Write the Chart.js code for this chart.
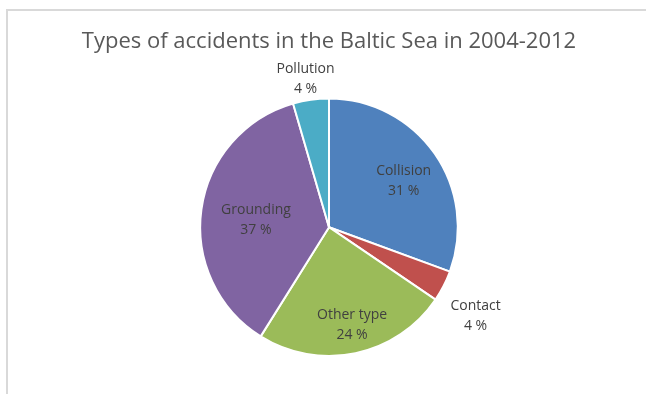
<!DOCTYPE html>
<html>
<head>
<meta charset="utf-8">
<script src="https://cdn.jsdelivr.net/npm/chart.js@4.4.0/dist/chart.umd.min.js"></script>
<style>
    html, body { margin: 0; padding: 0; background: #fff; }
    #wrap { position: relative; width: 646px; height: 394px; }
    #frame {
        position: absolute; left: 6px; top: 9px; right: 0; bottom: 0;
        border-top: 2px solid #d9d9d9; border-left: 2px solid #d9d9d9;
        pointer-events: none;
    }
</style>
</head>
<body>
<div id="wrap">
    <canvas id="chart" width="646" height="394"></canvas>
    <div id="frame"></div>
</div>
<script>
var categories = ["Collision", "Contact", "Other type", "Grounding", "Pollution"];
var shares = [30.6, 3.9, 24.4, 36.6, 4.5];
var percentLabels = ["31 %", "4 %", "24 %", "37 %", "4 %"];
var sliceColors = ["#4F81BD", "#C0504D", "#9BBB59", "#8064A2", "#4BACC6"];

// label placement: fraction of radius, and turn (degrees) off the slice middle
var labelDistance = [0.68, 1.33, 0.78, 0.57, 1.165];
var labelTurn = [3.4, 4, -1.4, -2.1, -0.9];

var sliceLabels = {
    id: 'sliceLabels',
    afterDatasetsDraw: function (chart) {
        var ctx = chart.ctx;
        var meta = chart.getDatasetMeta(0);
        ctx.save();
        ctx.font = '14px "Open Sans", sans-serif';
        ctx.fillStyle = '#404040';
        ctx.textAlign = 'center';
        ctx.textBaseline = 'middle';
        meta.data.forEach(function (arc, i) {
            var p = arc.getProps(['x', 'y', 'startAngle', 'endAngle', 'outerRadius'], true);
            var mid = (p.startAngle + p.endAngle) / 2 + labelTurn[i] * Math.PI / 180;
            var r = p.outerRadius * labelDistance[i];
            var x = p.x + Math.cos(mid) * r;
            var y = p.y + Math.sin(mid) * r;
            ctx.fillText(categories[i], x, y - 10);
            ctx.fillText(percentLabels[i], x, y + 10);
        });
        ctx.restore();
    }
};

var ctx = document.getElementById('chart').getContext('2d');
var chart = new Chart(ctx, {
    type: 'pie',
    data: {
        labels: categories,
        datasets: [{
            data: shares,
            backgroundColor: sliceColors,
            borderColor: '#ffffff',
            borderWidth: 2
        }]
    },
    options: {
        responsive: false,
        animation: false,
        layout: { padding: { left: 12, right: 0, top: 0, bottom: 37 } },
        plugins: {
            legend: { display: false },
            tooltip: { enabled: false },
            title: {
                display: true,
                text: 'Types of accidents in the Baltic Sea in 2004-2012',
                color: '#595959',
                font: { family: '"Open Sans", sans-serif', size: 22, weight: 'normal', lineHeight: 1.2 },
                padding: { top: 29, bottom: 42 }
            }
        }
    },
    plugins: [sliceLabels]
});
</script>
</body>
</html>
